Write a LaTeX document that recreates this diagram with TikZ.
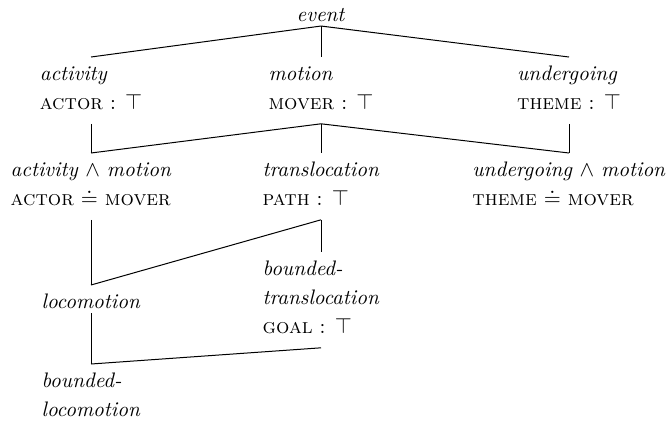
\documentclass[tikz,border=0pt]{standalone}
\usepackage{amsmath,amssymb}
\usetikzlibrary{positioning}
\tikzset{
  cat/.style={align=left,anchor=north,inner xsep=0pt,inner ysep=2pt,font=\fontsize{10.5}{14.5}\selectfont},
  isa/.style={draw=black,line width=0.5pt},
}
% type line and feature line of a node
\newcommand{\tp}[1]{\rule{0pt}{9.5pt}\textit{#1}}
\newcommand{\ft}[1]{#1\rule[-5pt]{0pt}{5pt}}

\begin{document}
\begin{tikzpicture}[x=0.5pt,y=-0.5pt]
  \useasboundingbox (0,0) rectangle (669,424);
  % top
  \node[cat] (event) at (321,-2) {\tp{event}};
  % second row
  \node[cat] (act) at (91,57) {\tp{activity}\\\ft{\textsc{actor} : $\top$}};
  \node[cat] (mot) at (321,57) {\tp{motion}\\\ft{\textsc{mover} : $\top$}};
  \node[cat] (und) at (569,57) {\tp{undergoing}\\\ft{\textsc{theme} : $\top$}};
  % third row
  \node[cat] (actmot) at (91,153) {\tp{activity} $\wedge$ \textit{motion}\\\ft{\textsc{actor} $\doteq$ \textsc{mover}}};
  \node[cat] (trans) at (321,153) {\tp{translocation}\\\ft{\textsc{path} : $\top$}};
  \node[cat] (undmot) at (569,153) {\tp{undergoing} $\wedge$ \textit{motion}\\\ft{\textsc{theme} $\doteq$ \textsc{mover}}};
  % lower rows
  \node[cat] (btrans) at (321,252) {\tp{bounded-}\\\textit{translocation}\\\ft{\textsc{goal} : $\top$}};
  \node[cat] (loco) at (91,285) {\tp{locomotion}};
  \node[cat] (bloco) at (91,364) {\tp{bounded-}\\\textit{locomotion}};
  % links
  \draw[isa] (event.south) -- (act.north);
  \draw[isa] (event.south) -- (mot.north);
  \draw[isa] (event.south) -- (und.north);
  \draw[isa] (act.south) -- (actmot.north);
  \draw[isa] (mot.south) -- (actmot.north);
  \draw[isa] (mot.south) -- (trans.north);
  \draw[isa] (mot.south) -- (undmot.north);
  \draw[isa] (und.south) -- (undmot.north);
  \draw[isa] (actmot.south) -- (loco.north);
  \draw[isa] (trans.south) -- (loco.north);
  \draw[isa] (trans.south) -- (btrans.north);
  \draw[isa] (loco.south) -- (bloco.north);
  \draw[isa] (btrans.south) -- (bloco.north);
\end{tikzpicture}
\end{document}
